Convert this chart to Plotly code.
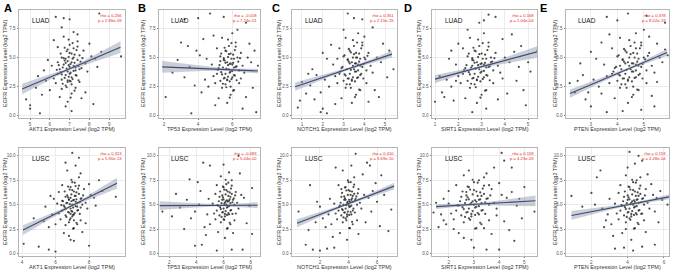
import numpy as np
import plotly.graph_objects as go

# ---------------- data ----------------
genes = ["AKT1", "TP53", "NOTCH1", "SIRT1", "PTEN"]
cohorts = ["LUAD", "LUSC"]
panel_letters = ["A", "B", "C", "D", "E"]
rho_luad = ["0.256", "-0.018", "0.351", "0.168", "0.378"]
p_luad = ["2.86e-09", "7.24e-01", "2.15e-15", "1.04e-04", "8.02e-19"]
rho_lusc = ["0.313", "-0.083", "0.410", "0.159", "0.153"]
p_lusc = ["5.90e-13", "5.44e-02", "3.69e-10", "4.23e-03", "4.48e-04"]

akt1_luad = [(7.0,4.2),(6.9,3.8),(7.1,4.6),(6.8,3.5),(7.2,5.0),(6.7,4.4),(7.3,3.9),(6.6,3.1),(7.4,4.8),(6.9,2.9),(7.0,5.4),(7.1,3.3),(6.5,4.0),(7.5,5.2),(6.8,2.6),(7.2,4.3),(6.4,3.6),(7.6,4.1),(7.0,6.1),(6.9,5.7),(7.3,2.4),(6.6,5.0),(7.1,1.9),(6.3,2.8),(7.7,5.6),(6.8,4.9),(7.0,3.0),(7.4,6.4),(6.2,3.2),(7.8,4.5),(6.7,6.8),(7.2,7.2),(6.5,1.6),(6.9,1.2),(7.3,3.5),(7.5,2.9),(6.1,4.3),(6.0,2.2),(7.9,3.8),(8.1,5.1),(8.3,4.9),(6.4,5.9),(5.8,3.0),(5.6,1.8),(5.9,4.8),(6.6,7.6),(7.0,8.3),(6.7,8.4),(6.3,8.5),(8.5,8.8),(9.6,5.1),(8.2,1.0),(5.0,0.9),(5.0,0.6),(4.8,1.4),(5.5,0.2),(7.1,0.4),(6.8,0.8),(7.6,1.5),(7.4,7.0),(8.0,6.2),(8.4,4.2),(5.3,2.4),(5.7,3.9),(6.2,6.5),(7.8,2.0),(7.2,5.8),(6.9,4.7),(7.0,3.6),(6.6,2.3),(7.5,4.0),(6.4,4.6),(7.1,2.7),(8.6,5.5),(5.4,3.4)]
akt1_luad_core = [(6.85,4.05),(7.05,3.7),(6.95,4.35),(7.15,4.9),(6.75,3.25),(7.25,4.55),(6.65,4.15),(7.35,3.45),(6.55,3.75),(7.45,4.25),(6.95,5.05),(7.05,2.95),(6.85,5.55),(7.15,3.15),(6.75,4.75),(7.25,5.25),(6.65,2.75),(7.35,5.65),(6.45,4.35),(7.55,4.65),(6.95,3.35),(7.05,4.45),(6.85,2.45),(7.15,6.25),(6.75,5.85),(7.25,2.15),(6.35,3.95),(7.65,4.95),(6.55,5.35),(7.45,3.05),(6.95,6.55),(7.05,1.55),(6.6,3.55),(7.4,5.95),(6.8,4.55),(7.2,3.85),(6.7,4.95),(7.3,4.15),(6.9,3.05),(7.1,5.35)]
akt1_lusc = [(7.0,5.0),(6.9,4.6),(7.1,5.5),(6.8,4.2),(7.2,5.9),(6.7,5.2),(7.3,4.8),(6.6,3.9),(7.4,6.1),(6.9,3.6),(7.0,6.5),(7.1,4.0),(6.5,4.9),(7.5,5.6),(6.8,3.2),(7.2,5.3),(6.4,4.4),(7.6,5.0),(7.0,7.3),(6.9,6.8),(7.3,3.0),(6.6,5.8),(7.1,2.6),(6.3,3.5),(7.7,6.6),(6.8,5.5),(7.0,3.8),(7.4,7.8),(6.2,4.1),(7.8,5.2),(6.7,8.5),(7.2,9.0),(6.5,2.1),(6.9,1.4),(7.3,4.4),(7.5,3.4),(6.1,5.1),(6.0,3.0),(7.9,4.6),(8.1,6.0),(8.3,5.7),(6.4,7.0),(5.8,4.0),(5.6,2.7),(5.9,5.6),(6.6,9.3),(7.0,10.3),(7.4,9.8),(8.6,7.5),(9.6,5.8),(8.0,0.8),(4.1,1.0),(5.0,0.7),(6.0,0.2),(5.6,0.4),(7.1,1.3),(6.8,1.8),(7.6,2.2),(7.5,8.2),(8.0,7.1),(8.4,4.9),(5.3,3.3),(5.4,4.8),(6.2,6.3),(7.8,3.1),(7.2,6.9),(6.9,5.7),(7.0,4.3),(6.6,2.9),(7.5,4.7),(6.4,5.4),(7.1,3.4),(4.7,3.6),(8.8,6.4),(5.7,5.9)]
akt1_lusc_core = [(6.85,5.05),(7.05,4.7),(6.95,5.35),(7.15,5.9),(6.75,4.25),(7.25,5.55),(6.65,5.15),(7.35,4.45),(6.55,4.75),(7.45,5.25),(6.95,6.05),(7.05,3.95),(6.85,6.55),(7.15,4.15),(6.75,5.75),(7.25,6.25),(6.65,3.75),(7.35,6.65),(6.45,5.35),(7.55,5.65),(6.95,4.35),(7.05,5.45),(6.85,3.45),(7.15,7.25),(6.75,6.85),(7.25,3.15),(6.35,4.95),(7.65,5.95),(6.55,6.35),(7.45,4.05),(6.95,7.55),(7.05,2.55),(6.6,4.55),(7.4,6.95),(6.8,5.55),(7.2,4.85),(6.7,5.95),(7.3,5.15),(6.9,4.05),(7.1,6.35)]
tp53_luad = [(5.8,4.0),(5.6,3.6),(6.0,4.4),(5.5,3.2),(6.1,4.9),(5.7,4.6),(5.9,3.8),(5.3,3.0),(6.2,4.2),(5.6,2.7),(5.8,5.3),(6.0,3.3),(5.2,4.1),(6.3,5.0),(5.4,2.4),(5.9,4.5),(5.1,3.6),(6.4,3.9),(5.8,6.0),(5.6,5.6),(6.1,2.2),(5.3,5.1),(5.9,1.8),(5.0,2.8),(6.5,5.4),(5.5,4.8),(5.7,3.1),(6.2,6.3),(4.9,3.4),(6.6,4.3),(5.4,6.7),(6.0,7.1),(5.2,1.5),(5.7,1.1),(6.1,3.5),(6.4,2.8),(4.8,4.4),(4.6,2.5),(6.7,3.7),(6.9,5.0),(7.1,4.6),(5.1,5.8),(4.4,3.1),(4.2,2.0),(4.5,4.9),(3.9,5.6),(3.5,4.2),(3.2,3.3),(3.0,6.3),(2.8,4.8),(2.1,1.6),(3.6,0.2),(4.7,8.8),(4.0,8.4),(5.5,8.5),(6.8,8.0),(7.4,0.3),(7.5,4.3),(6.6,0.6),(3.2,8.3),(3.4,6.0),(4.1,5.2),(3.8,2.6),(4.3,6.6),(6.3,7.4),(7.2,2.4),(7.0,6.2),(6.8,1.6),(5.0,0.9),(4.9,6.9),(2.5,3.7),(6.5,3.2),(5.3,4.7),(5.9,2.5),(7.3,5.6)]
tp53_luad_core = [(5.65,4.05),(5.85,3.7),(5.75,4.35),(5.95,4.9),(5.55,3.25),(6.05,4.55),(5.45,4.15),(6.15,3.45),(5.35,3.75),(6.25,4.25),(5.75,5.05),(5.85,2.95),(5.65,5.55),(5.95,3.15),(5.55,4.75),(6.05,5.25),(5.45,2.75),(6.15,5.65),(5.25,4.35),(6.35,4.65),(5.75,3.35),(5.85,4.45),(5.65,2.45),(5.95,6.25),(5.55,5.85),(6.05,2.15),(5.15,3.95),(6.45,4.95),(5.35,5.35),(6.25,3.05),(5.75,6.55),(5.85,1.55),(5.4,3.55),(6.2,5.95),(5.6,4.55),(6.0,3.85),(5.5,4.95),(6.1,4.15),(5.7,3.05),(5.9,5.35)]
tp53_lusc = [(6.2,5.0),(6.0,4.6),(6.4,5.4),(5.9,4.2),(6.5,5.8),(6.1,5.2),(6.3,4.8),(5.7,3.9),(6.6,6.1),(6.0,3.5),(6.2,6.5),(6.4,4.0),(5.6,4.9),(6.7,5.5),(5.8,3.2),(6.3,5.3),(5.5,4.4),(6.8,5.0),(6.2,7.1),(6.0,6.8),(6.5,3.0),(5.7,5.8),(6.3,2.6),(5.4,3.5),(6.9,6.3),(5.9,5.5),(6.1,3.8),(6.6,7.5),(5.3,4.1),(7.0,5.2),(5.8,7.9),(6.4,8.3),(5.6,2.2),(6.1,1.6),(6.5,4.4),(6.8,3.4),(5.2,5.1),(5.0,3.0),(7.1,4.6),(7.3,6.0),(7.5,5.7),(5.5,7.0),(4.8,4.0),(4.6,2.7),(4.9,5.6),(4.3,6.4),(3.9,4.3),(3.6,3.6),(3.3,5.5),(2.8,4.7),(1.5,4.3),(2.2,3.8),(4.5,9.3),(5.0,9.0),(7.1,10.0),(6.0,9.1),(3.9,0.8),(4.4,0.9),(5.5,0.3),(6.6,0.4),(7.4,0.4),(8.1,2.0),(8.1,6.7),(2.5,6.1),(4.1,7.3),(4.7,1.9),(7.7,3.1),(7.9,4.9),(3.1,2.5),(4.2,5.0),(7.2,8.2),(6.7,2.1),(5.4,6.1),(6.9,4.1),(3.5,7.6)]
tp53_lusc_core = [(6.05,5.05),(6.25,4.7),(6.15,5.35),(6.35,5.9),(5.95,4.25),(6.45,5.55),(5.85,5.15),(6.55,4.45),(5.75,4.75),(6.65,5.25),(6.15,6.05),(6.25,3.95),(6.05,6.55),(6.35,4.15),(5.95,5.75),(6.45,6.25),(5.85,3.75),(6.55,6.65),(5.65,5.35),(6.75,5.65),(6.15,4.35),(6.25,5.45),(6.05,3.45),(6.35,7.25),(5.95,6.85),(6.45,3.15),(5.55,4.95),(6.85,5.95),(5.75,6.35),(6.65,4.05),(6.15,7.55),(6.25,2.55),(5.8,4.55),(6.6,6.95),(6.0,5.55),(6.4,4.85),(5.9,5.95),(6.5,5.15),(6.1,4.05),(6.3,6.35)]
notch1_luad = [(3.5,4.0),(3.3,3.6),(3.7,4.4),(3.2,3.2),(3.8,4.9),(3.4,4.6),(3.6,3.8),(3.0,3.0),(3.9,4.2),(3.3,2.7),(3.5,5.3),(3.7,3.3),(2.9,4.1),(4.0,5.0),(3.1,2.4),(3.6,4.5),(2.8,3.6),(4.1,3.9),(3.5,6.0),(3.3,5.6),(3.8,2.2),(3.0,5.1),(3.6,1.8),(2.7,2.8),(4.2,5.4),(3.2,4.8),(3.4,3.1),(3.9,6.3),(2.6,3.4),(4.3,4.3),(3.1,6.7),(3.7,7.1),(2.9,1.5),(3.4,1.1),(3.8,3.5),(4.1,2.8),(2.5,4.4),(2.3,2.5),(4.4,3.7),(4.6,5.0),(4.8,4.6),(2.8,5.8),(2.1,3.1),(1.9,2.0),(2.2,4.9),(1.7,3.5),(1.4,2.6),(1.2,1.9),(1.0,2.9),(1.5,4.0),(1.9,0.3),(2.0,0.6),(2.2,0.2),(0.8,0.7),(0.9,1.3),(3.2,8.8),(3.5,8.4),(3.9,8.3),(5.4,4.0),(4.4,7.6),(2.4,6.1),(2.0,5.4),(4.9,6.2),(5.1,3.3),(4.7,1.6),(3.0,7.4),(4.0,6.8),(1.6,1.4),(2.6,1.0),(4.5,2.2),(5.2,5.6),(3.6,5.0),(2.7,4.9),(4.2,1.2),(1.3,3.6)]
notch1_luad_core = [(3.35,3.95),(3.55,3.8),(3.45,4.3),(3.65,5.0),(3.25,3.2),(3.75,4.65),(3.15,4.0),(3.85,3.6),(3.05,3.55),(3.95,4.45),(3.45,5.0),(3.55,2.95),(3.35,5.45),(3.65,3.25),(3.25,4.65),(3.75,5.35),(3.15,2.7),(3.85,5.8),(2.95,4.2),(4.05,4.85),(3.45,3.3),(3.55,4.5),(3.35,2.4),(3.65,6.3),(3.25,5.75),(3.75,2.25),(2.85,3.8),(4.15,5.15),(3.05,5.2),(3.95,3.2),(3.45,6.5),(3.55,1.6),(3.1,3.45),(3.9,6.05),(3.3,4.5),(3.7,3.9),(3.2,4.85),(3.8,4.3),(3.4,3.0),(3.6,5.4)]
notch1_lusc = [(4.0,5.0),(3.8,4.6),(4.2,5.5),(3.7,4.2),(4.3,5.9),(3.9,5.2),(4.1,4.8),(3.5,3.9),(4.4,6.1),(3.8,3.6),(4.0,6.5),(4.2,4.0),(3.4,4.9),(4.5,5.6),(3.6,3.2),(4.1,5.3),(3.3,4.4),(4.6,5.0),(4.0,7.3),(3.8,6.8),(4.3,3.0),(3.5,5.8),(4.1,2.6),(3.2,3.5),(4.7,6.6),(3.7,5.5),(3.9,3.8),(4.4,7.8),(3.1,4.1),(4.8,5.2),(3.6,8.5),(4.2,9.0),(3.4,2.1),(3.9,1.4),(4.3,4.4),(4.6,3.4),(3.0,5.1),(2.8,3.0),(4.9,4.6),(5.1,6.0),(5.4,5.7),(3.3,7.0),(2.6,4.0),(2.4,2.7),(2.7,5.6),(2.2,3.6),(2.0,4.8),(1.7,3.2),(5.7,6.4),(6.0,5.3),(1.0,0.9),(1.5,0.4),(2.0,0.3),(2.5,0.5),(3.0,0.6),(3.1,8.8),(4.5,10.2),(5.3,9.3),(5.5,9.0),(6.2,2.8),(6.8,2.3),(7.0,4.5),(0.5,4.3),(1.3,7.0),(1.8,5.3),(5.9,7.2),(6.5,6.0),(5.0,8.1),(2.9,1.7),(5.2,3.2),(6.3,8.0),(4.7,2.0),(1.2,2.4),(5.6,4.3),(3.5,6.6)]
notch1_lusc_core = [(3.85,4.95),(4.05,4.8),(3.95,5.3),(4.15,6.0),(3.75,4.2),(4.25,5.65),(3.65,5.0),(4.35,4.6),(3.55,4.55),(4.45,5.45),(3.95,6.0),(4.05,3.95),(3.85,6.45),(4.15,4.25),(3.75,5.65),(4.25,6.35),(3.65,3.7),(4.35,6.8),(3.45,5.2),(4.55,5.85),(3.95,4.3),(4.05,5.5),(3.85,3.4),(4.15,7.3),(3.75,6.75),(4.25,3.25),(3.35,4.8),(4.65,6.15),(3.55,6.2),(4.45,4.2),(3.95,7.5),(4.05,2.6),(3.6,4.45),(4.4,7.05),(3.8,5.5),(4.2,4.9),(3.7,5.85),(4.3,5.3),(3.9,4.0),(4.1,6.4)]
sirt1_luad = [(2.9,4.0),(2.7,3.6),(3.1,4.4),(2.6,3.2),(3.2,4.9),(2.8,4.6),(3.0,3.8),(2.4,3.0),(3.3,4.2),(2.7,2.7),(2.9,5.3),(3.1,3.3),(2.3,4.1),(3.4,5.0),(2.5,2.4),(3.0,4.5),(2.2,3.6),(3.5,3.9),(2.9,6.0),(2.7,5.6),(3.2,2.2),(2.4,5.1),(3.0,1.8),(2.1,2.8),(3.6,5.4),(2.6,4.8),(2.8,3.1),(3.3,6.3),(2.0,3.4),(3.7,4.3),(2.5,6.7),(3.1,7.1),(2.3,1.5),(2.8,1.1),(3.2,3.5),(3.5,2.8),(1.9,4.4),(1.7,2.5),(3.8,3.7),(4.0,5.0),(4.2,4.6),(2.2,5.8),(1.5,3.1),(1.3,2.0),(1.6,4.9),(1.2,3.4),(1.4,1.6),(1.8,1.3),(4.4,5.5),(4.6,4.2),(3.3,8.7),(3.6,8.5),(2.9,8.0),(3.1,8.2),(4.9,0.9),(1.0,1.2),(2.6,0.3),(3.2,0.6),(5.4,5.6),(4.5,3.0),(4.8,2.2),(3.9,6.6),(4.3,7.0),(1.7,5.6),(2.0,6.2),(3.7,1.4),(4.1,1.9),(5.0,4.6),(4.7,6.0),(3.4,4.6),(2.6,4.3),(1.9,3.0),(3.9,3.2),(2.4,7.4),(5.1,3.8)]
sirt1_luad_core = [(2.75,4.05),(2.95,3.7),(2.85,4.35),(3.05,4.9),(2.65,3.25),(3.15,4.55),(2.55,4.15),(3.25,3.45),(2.45,3.75),(3.35,4.25),(2.85,5.05),(2.95,2.95),(2.75,5.55),(3.05,3.15),(2.65,4.75),(3.15,5.25),(2.55,2.75),(3.25,5.65),(2.35,4.35),(3.45,4.65),(2.85,3.35),(2.95,4.45),(2.75,2.45),(3.05,6.25),(2.65,5.85),(3.15,2.15),(2.25,3.95),(3.55,4.95),(2.45,5.35),(3.35,3.05),(2.85,6.55),(2.95,1.55),(2.5,3.55),(3.3,5.95),(2.7,4.55),(3.1,3.85),(2.6,4.95),(3.2,4.15),(2.8,3.05),(3.0,5.35)]
sirt1_lusc = [(3.0,5.0),(2.8,4.6),(3.2,5.5),(2.7,4.2),(3.3,5.9),(2.9,5.2),(3.1,4.8),(2.5,3.9),(3.4,6.1),(2.8,3.6),(3.0,6.5),(3.2,4.0),(2.4,4.9),(3.5,5.6),(2.6,3.2),(3.1,5.3),(2.3,4.4),(3.6,5.0),(3.0,7.3),(2.8,6.8),(3.3,3.0),(2.5,5.8),(3.1,2.6),(2.2,3.5),(3.7,6.6),(2.7,5.5),(2.9,3.8),(3.4,7.8),(2.1,4.1),(3.8,5.2),(2.6,8.0),(3.2,7.5),(2.4,2.1),(2.9,1.4),(3.3,4.4),(3.6,3.4),(2.0,5.1),(1.9,3.0),(3.9,4.6),(4.1,6.0),(4.3,5.7),(2.3,7.0),(1.7,4.0),(1.6,2.7),(1.8,5.6),(4.5,6.3),(4.7,4.9),(4.2,3.3),(4.0,7.2),(4.8,5.6),(4.1,10.3),(4.2,9.5),(3.8,8.8),(2.8,8.5),(4.5,8.8),(3.5,0.4),(4.0,0.4),(3.0,0.6),(4.6,1.3),(5.4,4.3),(2.2,2.5),(1.4,4.2),(3.7,2.0),(2.0,6.4),(1.5,5.2),(4.4,2.4),(5.0,6.8),(3.5,8.2),(2.6,1.6),(3.9,3.9),(2.7,6.3),(3.4,2.6),(4.9,3.6),(1.8,3.4),(3.6,7.0)]
sirt1_lusc_core = [(2.85,5.05),(3.05,4.7),(2.95,5.35),(3.15,5.9),(2.75,4.25),(3.25,5.55),(2.65,5.15),(3.35,4.45),(2.55,4.75),(3.45,5.25),(2.95,6.05),(3.05,3.95),(2.85,6.55),(3.15,4.15),(2.75,5.75),(3.25,6.25),(2.65,3.75),(3.35,6.65),(2.45,5.35),(3.55,5.65),(2.95,4.35),(3.05,5.45),(2.85,3.45),(3.15,7.25),(2.75,6.85),(3.25,3.15),(2.35,4.95),(3.65,5.95),(2.55,6.35),(3.45,4.05),(2.95,7.55),(3.05,2.55),(2.6,4.55),(3.4,6.95),(2.8,5.55),(3.2,4.85),(2.7,5.95),(3.3,5.15),(2.9,4.05),(3.1,6.35)]
pten_luad = [(4.5,4.0),(4.3,3.6),(4.7,4.4),(4.2,3.2),(4.8,4.9),(4.4,4.6),(4.6,3.8),(4.0,3.0),(4.9,4.2),(4.3,2.7),(4.5,5.3),(4.7,3.3),(3.9,4.1),(5.0,5.0),(4.1,2.4),(4.6,4.5),(3.8,3.6),(5.1,3.9),(4.5,6.0),(4.3,5.6),(4.8,2.2),(4.0,5.1),(4.6,1.8),(3.7,2.8),(5.2,5.4),(4.2,4.8),(4.4,3.1),(4.9,6.3),(3.6,3.4),(5.3,4.3),(4.1,6.7),(4.7,7.1),(3.9,1.5),(4.4,1.1),(4.8,3.5),(5.1,2.8),(3.5,4.4),(3.3,2.5),(5.4,3.7),(5.6,5.0),(5.7,4.6),(3.8,5.8),(3.1,3.1),(2.9,2.0),(3.2,4.9),(2.7,3.5),(2.5,3.0),(2.2,2.8),(5.5,6.2),(5.8,5.7),(3.6,8.5),(4.4,8.8),(4.0,8.2),(5.1,8.6),(5.8,8.0),(3.0,0.8),(3.6,0.3),(4.2,0.4),(4.9,0.5),(5.4,0.8),(5.9,5.2),(3.4,6.3),(3.0,5.5),(2.8,1.4),(5.3,1.7),(5.0,7.4),(3.7,7.0),(2.6,4.5),(4.6,2.5),(5.5,2.9),(4.1,4.3),(3.4,1.9),(4.7,5.8),(2.4,2.0),(5.2,6.8)]
pten_luad_core = [(4.35,3.95),(4.55,3.8),(4.45,4.3),(4.65,5.0),(4.25,3.2),(4.75,4.65),(4.15,4.0),(4.85,3.6),(4.05,3.55),(4.95,4.45),(4.45,5.0),(4.55,2.95),(4.35,5.45),(4.65,3.25),(4.25,4.65),(4.75,5.35),(4.15,2.7),(4.85,5.8),(3.95,4.2),(5.05,4.85),(4.45,3.3),(4.55,4.5),(4.35,2.4),(4.65,6.3),(4.25,5.75),(4.75,2.25),(3.85,3.8),(5.15,5.15),(4.05,5.2),(4.95,3.2),(4.45,6.5),(4.55,1.6),(4.1,3.45),(4.9,6.05),(4.3,4.5),(4.7,3.9),(4.2,4.85),(4.8,4.3),(4.4,3.0),(4.6,5.4)]
pten_lusc = [(4.3,5.0),(4.1,4.6),(4.5,5.5),(4.0,4.2),(4.6,5.9),(4.2,5.2),(4.4,4.8),(3.8,3.9),(4.7,6.1),(4.1,3.6),(4.3,6.5),(4.5,4.0),(3.7,4.9),(4.8,5.6),(3.9,3.2),(4.4,5.3),(3.6,4.4),(4.9,5.0),(4.3,7.3),(4.1,6.8),(4.6,3.0),(3.8,5.8),(4.4,2.6),(3.5,3.5),(5.0,6.6),(4.0,5.5),(4.2,3.8),(4.7,7.8),(3.4,4.1),(5.1,5.2),(3.9,8.0),(4.5,7.5),(3.7,2.1),(4.2,1.4),(4.6,4.4),(4.9,3.4),(3.3,5.1),(3.1,3.0),(5.2,4.6),(5.4,6.0),(5.6,5.7),(3.6,7.0),(2.9,4.0),(2.7,2.7),(3.0,5.6),(2.6,4.6),(5.8,6.4),(5.5,4.3),(5.3,7.1),(5.7,3.2),(0.9,5.9),(2.0,6.2),(2.5,8.5),(2.3,7.8),(4.1,10.4),(4.6,10.0),(4.8,9.5),(3.3,0.5),(3.8,0.6),(4.3,0.3),(4.8,0.7),(5.5,0.9),(6.2,5.0),(2.2,5.0),(1.5,4.8),(3.2,1.8),(5.0,2.2),(4.0,8.8),(5.1,8.1),(2.8,3.4),(3.5,6.2),(4.8,4.1),(3.9,2.5),(5.9,5.5),(4.4,9.2)]
pten_lusc_core = [(4.15,5.05),(4.35,4.7),(4.25,5.35),(4.45,5.9),(4.05,4.25),(4.55,5.55),(3.95,5.15),(4.65,4.45),(3.85,4.75),(4.75,5.25),(4.25,6.05),(4.35,3.95),(4.15,6.55),(4.45,4.15),(4.05,5.75),(4.55,6.25),(3.95,3.75),(4.65,6.65),(3.75,5.35),(4.85,5.65),(4.25,4.35),(4.35,5.45),(4.15,3.45),(4.45,7.25),(4.05,6.85),(4.55,3.15),(3.65,4.95),(4.95,5.95),(3.85,6.35),(4.75,4.05),(4.25,7.55),(4.35,2.55),(3.9,4.55),(4.7,6.95),(4.1,5.55),(4.5,4.85),(4.0,5.95),(4.6,5.15),(4.2,4.05),(4.4,6.35)]

points_luad = [akt1_luad + akt1_luad_core, tp53_luad + tp53_luad_core, notch1_luad + notch1_luad_core,
               sirt1_luad + sirt1_luad_core, pten_luad + pten_luad_core]
points_lusc = [akt1_lusc + akt1_lusc_core, tp53_lusc + tp53_lusc_core, notch1_lusc + notch1_lusc_core,
               sirt1_lusc + sirt1_lusc_core, pten_lusc + pten_lusc_core]

# regression line ends (x0, x1, y0, y1), x at band waist, band half-widths (left, waist, right)
fit_luad = [(4.6, 9.57, 2.3, 5.9), (1.9, 7.5, 4.2, 3.85), (0.67, 5.33, 2.5, 5.3), (1.0, 5.4, 3.15, 5.5), (2.21, 5.88, 1.9, 5.45)]
waist_luad = [7.0, 5.6, 3.3, 2.9, 4.4]
band_luad = [(0.45, 0.12, 0.5), (0.5, 0.1, 0.2), (0.35, 0.1, 0.3), (0.35, 0.1, 0.5), (0.35, 0.1, 0.3)]
fit_lusc = [(4.06, 9.67, 2.4, 7.2), (1.3, 8.5, 4.9, 4.95), (0.39, 7.2, 3.1, 6.9), (1.5, 5.44, 4.8, 5.4), (0.9, 6.28, 3.9, 5.8)]
waist_lusc = [7.0, 5.8, 3.9, 3.0, 4.2]
band_lusc = [(0.5, 0.12, 0.55), (0.45, 0.1, 0.3), (0.4, 0.1, 0.35), (0.25, 0.1, 0.55), (0.45, 0.1, 0.25)]

xrange_luad = [[4.44, 9.8], [1.71, 7.62], [0.52, 5.57], [0.87, 5.38], [2.06, 5.95]]
xrange_lusc = [[3.82, 10.15], [1.25, 8.68], [0.04, 7.4], [1.34, 5.5], [0.6, 6.28]]
xticks_luad = [[5, 6, 7, 8, 9], [2, 4, 6], [1, 2, 3, 4, 5], [1, 2, 3, 4, 5], [3, 4, 5, 6]]
xticks_lusc = [[4, 6, 8], [2, 4, 6, 8], [2, 4, 6], [2, 3, 4, 5], [2, 4, 6]]
yrange_luad = [-0.2, 9.1]
yrange_lusc = [-0.25, 10.8]
yticks_luad = [0, 2.5, 5, 7.5]
yticks_lusc = [0, 2.5, 5, 7.5, 10]

# ---------------- layout geometry (pixels) ----------------
W, H = 673, 271
col_px = [(19, 125), (159, 260), (292, 397), (432, 537), (566, 669)]
row_px = [(10, 118), (148, 256)]
ytitle_px = [5, 143, 279, 419, 555]
letter_px = [2, 136, 270, 402, 538]
xtitle_py = [129, 266.5]

fig = go.Figure()
annotations = []
layout_axes = {}
FONT = "Liberation Sans, Arial, sans-serif"


def px2x(p):
    return p / W


def py2y(p):
    return 1 - p / H


idx = 0
for r, (cohort, pts_all, fits, waists, bands, xr_all, xt_all, yr, yt, rhos, ps) in enumerate([
        ("LUAD", points_luad, fit_luad, waist_luad, band_luad, xrange_luad, xticks_luad, yrange_luad, yticks_luad, rho_luad, p_luad),
        ("LUSC", points_lusc, fit_lusc, waist_lusc, band_lusc, xrange_lusc, xticks_lusc, yrange_lusc, yticks_lusc, rho_lusc, p_lusc)]):
    for c in range(5):
        idx += 1
        xa = "x" if idx == 1 else f"x{idx}"
        ya = "y" if idx == 1 else f"y{idx}"
        xname = "xaxis" if idx == 1 else f"xaxis{idx}"
        yname = "yaxis" if idx == 1 else f"yaxis{idx}"
        pts = pts_all[c]
        xs = [p[0] for p in pts]
        ys = [p[1] for p in pts]
        x0, x1, y0, y1 = fits[c]
        xw = waists[c]
        wl, wc, wr = bands[c]
        xx = np.linspace(x0, x1, 60)
        yy = y0 + (y1 - y0) * (xx - x0) / (x1 - x0)
        hw = np.where(
            xx < xw,
            np.sqrt(wc**2 + (wl**2 - wc**2) * ((xx - xw) / (x0 - xw))**2),
            np.sqrt(wc**2 + (wr**2 - wc**2) * ((xx - xw) / (x1 - xw))**2))
        fig.add_trace(go.Scatter(
            x=xs, y=ys, mode="markers",
            marker=dict(size=2.2, color="rgba(45,45,45,0.85)"),
            showlegend=False, xaxis=xa, yaxis=ya))
        fig.add_trace(go.Scatter(
            x=np.concatenate([xx, xx[::-1]]), y=np.concatenate([yy + hw, (yy - hw)[::-1]]),
            fill="toself", fillcolor="rgba(150,158,175,0.5)", line=dict(width=0),
            mode="lines", hoverinfo="skip", showlegend=False, xaxis=xa, yaxis=ya))
        fig.add_trace(go.Scatter(
            x=xx, y=yy, mode="lines", line=dict(color="#3d4b70", width=1.1),
            showlegend=False, xaxis=xa, yaxis=ya))

        cx0, cx1 = col_px[c]
        ry0, ry1 = row_px[r]
        axis_common = dict(
            showgrid=True, gridcolor="#ebebeb", gridwidth=0.6,
            showline=True, linecolor="#b5b5b5", linewidth=0.8, mirror=True,
            ticks="outside", ticklen=1.5, tickwidth=0.6, tickcolor="#777",
            tickfont=dict(size=4.6, color="#555", family=FONT),
            zeroline=False, fixedrange=True)
        layout_axes[xname] = dict(axis_common, domain=[px2x(cx0), px2x(cx1)], range=xr_all[c],
                                  tickvals=xt_all[c], anchor=ya)
        layout_axes[yname] = dict(axis_common, domain=[py2y(ry1), py2y(ry0)], range=yr,
                                  tickvals=yt, tickformat=".1f", anchor=xa)

        annotations.append(dict(xref=f"{xa} domain", yref=f"{ya} domain", x=0.1, y=0.9,
                                text=cohort, showarrow=False, xanchor="left", yanchor="middle",
                                font=dict(size=6.5, color="#111", family=FONT)))
        annotations.append(dict(xref=f"{xa} domain", yref=f"{ya} domain", x=0.99, y=0.995,
                                text=f"rho = {rhos[c]}<br>p = {ps[c]}", showarrow=False,
                                xanchor="right", yanchor="top", align="right",
                                font=dict(size=4.2, color="#e8291f", family=FONT)))
        annotations.append(dict(xref="paper", yref="paper", x=px2x((cx0 + cx1) / 2), y=py2y(xtitle_py[r]),
                                text=f"{genes[c]} Expression Level (log2 TPM)", showarrow=False,
                                xanchor="center", yanchor="middle",
                                font=dict(size=5.5, color="#333", family=FONT)))
        annotations.append(dict(xref="paper", yref="paper", x=px2x(ytitle_px[c]), y=py2y((ry0 + ry1) / 2),
                                text="EGFR Expression Level (log2 TPM)", showarrow=False, textangle=-90,
                                xanchor="center", yanchor="middle",
                                font=dict(size=5.5, color="#333", family=FONT)))

for c in range(5):
    annotations.append(dict(xref="paper", yref="paper", x=px2x(letter_px[c]), y=py2y(0),
                            text=f"<b>{panel_letters[c]}</b>", showarrow=False,
                            xanchor="left", yanchor="top",
                            font=dict(size=11, color="#000", family=FONT)))

fig.update_layout(
    width=W, height=H, margin=dict(l=0, r=0, t=0, b=0),
    paper_bgcolor="white", plot_bgcolor="white",
    annotations=annotations, showlegend=False, **layout_axes)

fig.write_html("out.html", config={"displayModeBar": False},
               post_script="document.body.style.margin='0';")
